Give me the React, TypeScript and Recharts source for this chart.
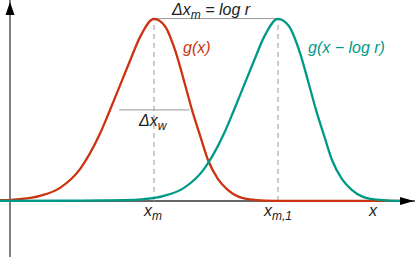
import { LineChart, Line, XAxis, YAxis, ReferenceLine, ReferenceDot } from "recharts";

// x positions are in axis units (0 = vertical axis), heights normalised to peak = 1
const redX = [-1, 1, 3, 5, 7, 9, 10, 11, 12, 13, 14.4, 15.5, 16.5, 17.5, 18.2, 19, 19.8, 20.8, 21.8, 22.8, 24, 25.5, 27.5, 39.5];
const redY = [0.004, 0.01, 0.028, 0.072, 0.175, 0.37, 0.5, 0.635, 0.77, 0.9, 1, 0.96, 0.83, 0.64, 0.5, 0.36, 0.225, 0.12, 0.06, 0.025, 0.008, 0.002, 0, 0];

const tealX = [-1, 5, 9, 11.4, 13.4, 15.4, 17.4, 19.4, 21.4, 22.4, 23.4, 24.4, 25.4, 26.8, 27.9, 28.9, 29.9, 30.6, 31.4, 32.2, 33.2, 34.2, 35.2, 36.4, 37.9, 39.5];
const tealY = [0, 0.001, 0.003, 0.004, 0.01, 0.028, 0.072, 0.175, 0.37, 0.5, 0.635, 0.77, 0.9, 1, 0.96, 0.83, 0.64, 0.5, 0.36, 0.225, 0.12, 0.06, 0.025, 0.008, 0.002, 0];

const peakRed = 14.4;
const peakTeal = 26.8;
const halfWidth = [10.93, 17.93];

const redData = redX.map((x, i) => ({ x, y: redY[i] }));
const tealData = tealX.map((x, i) => ({ x, y: tealY[i] }));

const RED = "#CC3311";
const TEAL = "#009988";
const GRID = "#999999";
const FONT = "'Liberation Sans', Arial, sans-serif";

type Part = { t: string; sub?: boolean };

function textShape(parts: Part[], color: string) {
  return (props: any) => {
    const { cx, cy } = props;
    let shifted = false;
    return (
      <text x={cx} y={cy} fill={color} fontFamily={FONT} fontStyle="italic" fontSize={16}>
        {parts.map((p, i) => {
          let dy = 0;
          if (p.sub && !shifted) { dy = 4; shifted = true; }
          else if (!p.sub && shifted) { dy = -4; shifted = false; }
          return (
            <tspan key={i} dy={dy} fontSize={p.sub ? 12 : 16}>{p.t}</tspan>
          );
        })}
      </text>
    );
  };
}

const arrowUp = (props: any) => {
  const { cx, cy } = props;
  return <polygon points={`${cx},${cy} ${cx - 4.5},${cy + 13} ${cx + 4.5},${cy + 13}`} fill="#000" />;
};

const arrowRight = (props: any) => {
  const { cx, cy } = props;
  return <polygon points={`${cx},${cy} ${cx - 14},${cy - 4} ${cx - 14},${cy + 4}`} fill="#000" />;
};

export default function App() {
  return (
    <div style={{ position: "absolute", left: 0, top: 0, background: "#fff" }}>
      <LineChart width={415} height={257} margin={{ top: 0, right: 0, left: 0, bottom: 0 }}>
        <XAxis type="number" dataKey="x" domain={[-1, 40.5]} hide allowDataOverflow />
        <YAxis type="number" domain={[-0.308, 1.104]} hide allowDataOverflow />

        <ReferenceLine x={0} stroke="#808080" strokeWidth={2} ifOverflow="visible" />
        <ReferenceLine y={0} stroke="#666666" strokeWidth={2} ifOverflow="visible" />

        <ReferenceLine segment={[{ x: peakRed, y: 0 }, { x: peakRed, y: 1 }]} stroke={GRID} strokeDasharray="5 4" />
        <ReferenceLine segment={[{ x: peakTeal, y: 0 }, { x: peakTeal, y: 1 }]} stroke={GRID} strokeDasharray="5 4" />
        <ReferenceLine segment={[{ x: peakRed, y: 1.002 }, { x: peakTeal, y: 1.002 }]} stroke={GRID} />
        <ReferenceLine segment={[{ x: halfWidth[0], y: 0.5 }, { x: halfWidth[1], y: 0.5 }]} stroke={GRID} />

        <Line data={redData} dataKey="y" type="monotone" stroke={RED} strokeWidth={2.3} dot={false} activeDot={false} isAnimationActive={false} />
        <Line data={tealData} dataKey="y" type="monotone" stroke={TEAL} strokeWidth={2.3} dot={false} activeDot={false} isAnimationActive={false} />

        <ReferenceDot x={0} y={1.093} ifOverflow="visible" shape={arrowUp} />
        <ReferenceDot x={40.4} y={0} ifOverflow="visible" shape={arrowRight} />

        <ReferenceDot x={16.2} y={1.022} ifOverflow="visible"
          shape={textShape([{ t: "Δx" }, { t: "m", sub: true }, { t: " = log r" }], "#222")} />
        <ReferenceDot x={17.3} y={0.813} ifOverflow="visible" shape={textShape([{ t: "g(x)" }], RED)} />
        <ReferenceDot x={29.8} y={0.813} ifOverflow="visible" shape={textShape([{ t: "g(x − log r)" }], TEAL)} />
        <ReferenceDot x={12.9} y={0.412} ifOverflow="visible"
          shape={textShape([{ t: "Δx" }, { t: "w", sub: true }], "#222")} />
        <ReferenceDot x={13.4} y={-0.082} ifOverflow="visible"
          shape={textShape([{ t: "x" }, { t: "m", sub: true }], "#222")} />
        <ReferenceDot x={25.4} y={-0.082} ifOverflow="visible"
          shape={textShape([{ t: "x" }, { t: "m,1", sub: true }], "#222")} />
        <ReferenceDot x={35.9} y={-0.082} ifOverflow="visible" shape={textShape([{ t: "x" }], "#222")} />
      </LineChart>
    </div>
  );
}
